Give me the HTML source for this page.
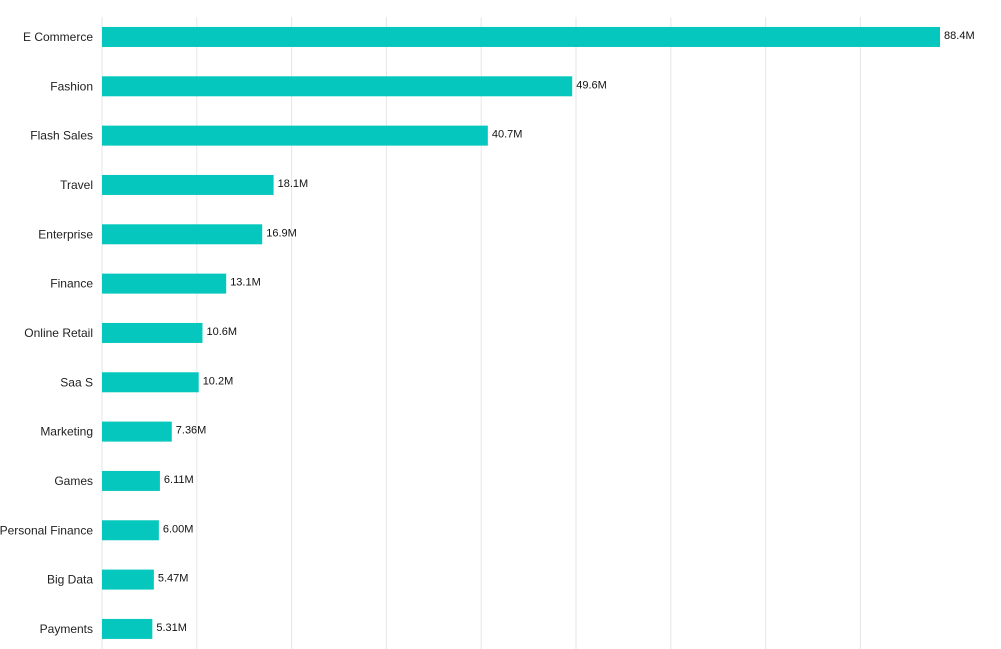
<!DOCTYPE html>
<html><head><meta charset="utf-8"><style>
body{margin:0;background:#fff;}
svg{display:block;font-family:"Liberation Sans",sans-serif;}
</style></head><body>
<svg id="chart" width="1001" height="649" viewBox="0 0 1001 649" xmlns="http://www.w3.org/2000/svg">
<g id="grid"></g>
<g id="bars"></g>
<g id="labels"></g>
<g id="values"></g>
</svg>
<script>
const categories = ["E Commerce","Fashion","Flash Sales","Travel","Enterprise","Finance","Online Retail","Saa S","Marketing","Games","Personal Finance","Big Data","Payments"];
const values = [88.4,49.6,40.7,18.1,16.9,13.1,10.6,10.2,7.36,6.11,6.00,5.47,5.31];
const valueLabels = ["88.4M","49.6M","40.7M","18.1M","16.9M","13.1M","10.6M","10.2M","7.36M","6.11M","6.00M","5.47M","5.31M"];
const gridTicks = [0,10,20,30,40,50,60,70,80];

const NS="http://www.w3.org/2000/svg";
const x0=102, pxPerUnit=9.48;
const x=v=>x0+v*pxPerUnit;
const rowTop=12.3, rowStep=49.33, barH=20;
const yc=i=>rowTop+rowStep*(i+0.5);
function mk(tag,attrs,parent){const e=document.createElementNS(NS,tag);for(const k in attrs)e.setAttribute(k,attrs[k]);parent.appendChild(e);return e;}
const grid=document.getElementById('grid'),bars=document.getElementById('bars'),labels=document.getElementById('labels'),vals=document.getElementById('values');
gridTicks.forEach(t=>{
  const l=mk('line',{x1:x(t),x2:x(t),y1:17,y2:649,stroke:'#e6e6e6','stroke-width':1},grid);
  
  
});
categories.forEach((c,i)=>{
  const r=mk('rect',{x:x0,y:yc(i)-barH/2,width:x(values[i])-x0,height:barH,fill:'#06c7bd'},bars);
  
  
  const t=mk('text',{x:93,y:yc(i)+4,'text-anchor':'end','font-size':12,fill:'#222'},labels);
  t.textContent=c;
  
  
  const v=mk('text',{x:x(values[i])+4,y:yc(i)+2,'font-size':11,fill:'#111'},vals);
  v.textContent=valueLabels[i];
  
  
});
</script>
</body></html>
